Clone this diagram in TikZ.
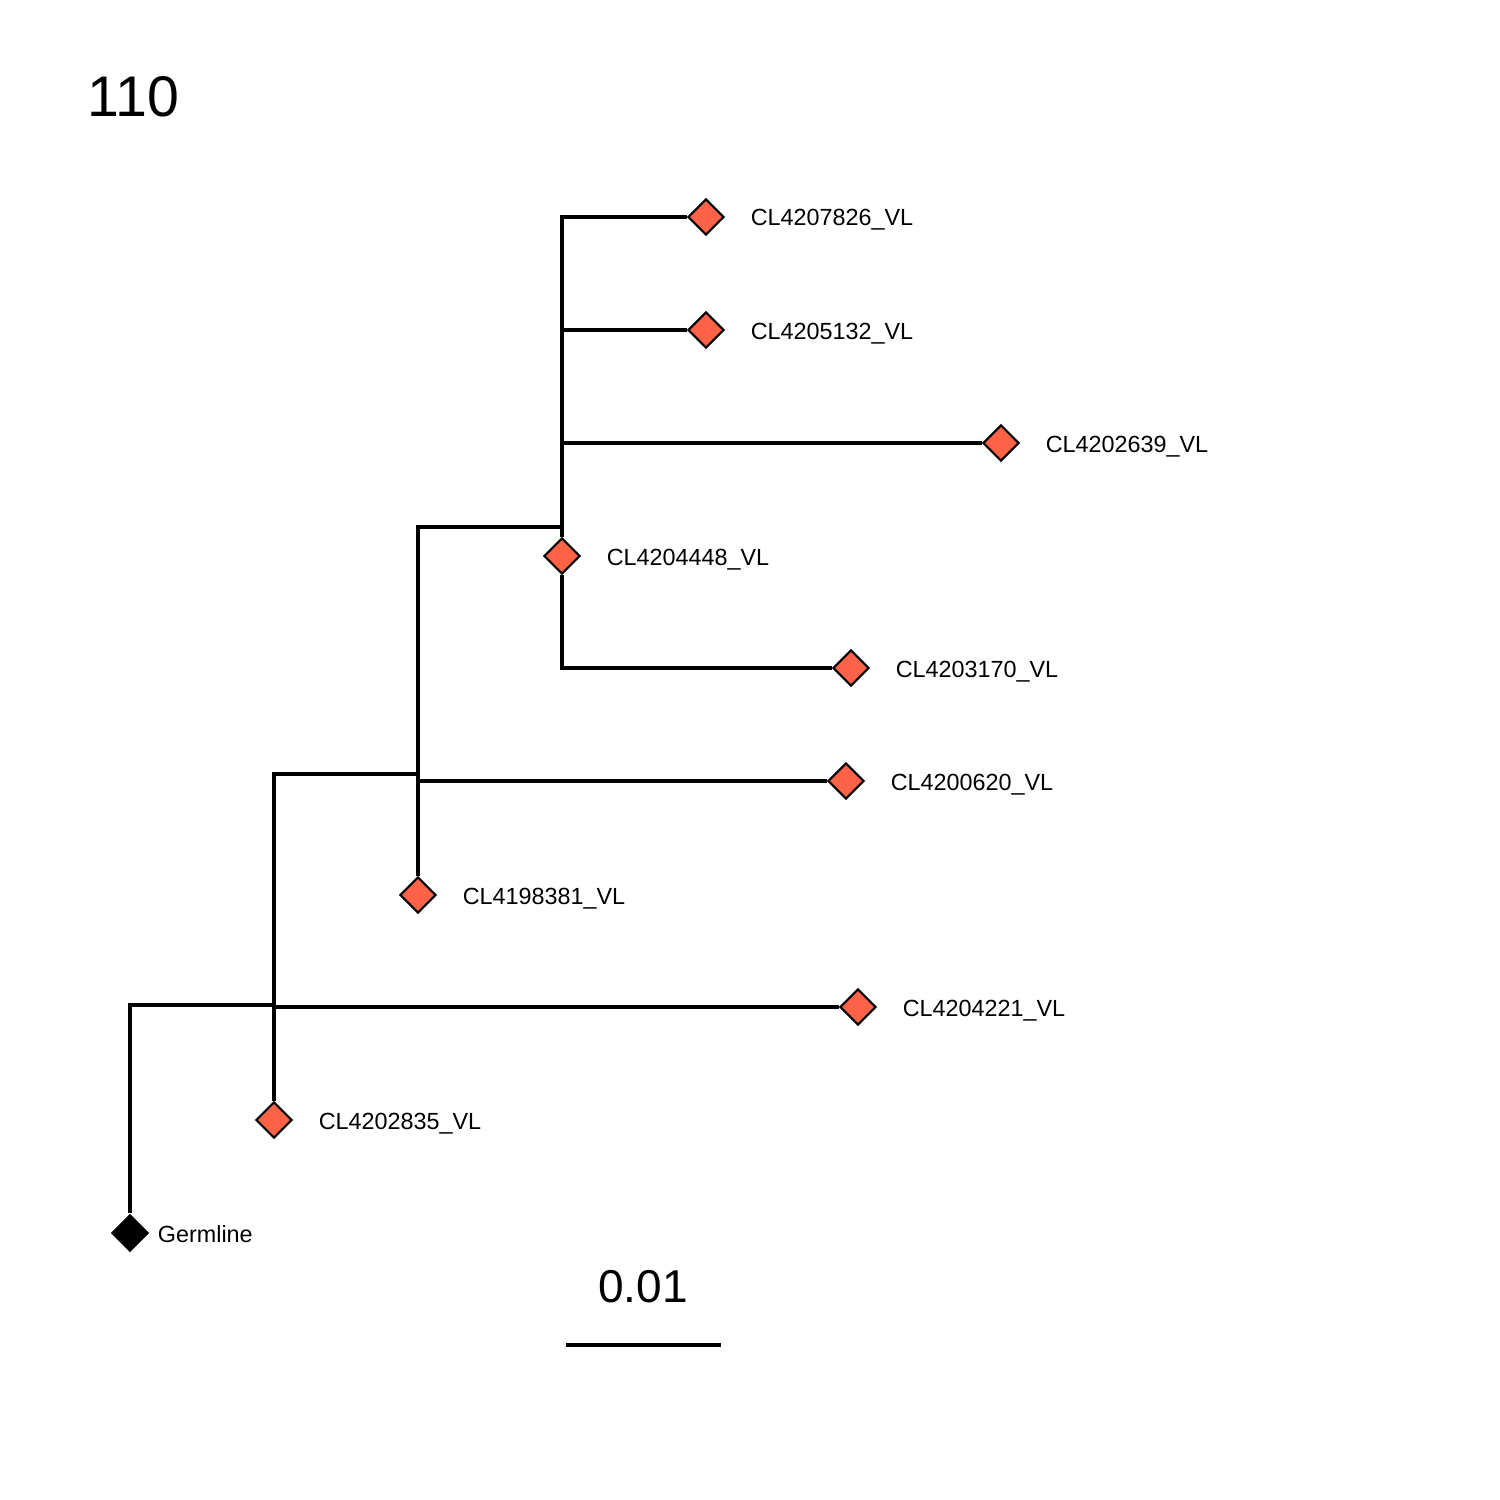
\documentclass[tikz,border=0pt]{standalone}
\usepackage{fontspec}
\setmainfont{Liberation Sans}
\usetikzlibrary{shapes.geometric, positioning}
\definecolor{leafred}{HTML}{FF6347}

\begin{document}
\begin{tikzpicture}[x=0.1mm, y=-0.1mm,
        leaf/.style={diamond, draw, fill=leafred, line width=0.6pt, inner sep=0pt, minimum size=3.6mm},
        root/.style={diamond, fill=black, inner sep=0pt, minimum size=3.9mm},
        tiplabel/.style={font=\fontsize{6.65}{7}\selectfont, inner sep=0pt, text height=1.8mm, text depth=0pt},
        branch/.style={line width=1.05pt, line join=miter}]
        \useasboundingbox (0,0) rectangle (1500,1500);
        \def \off {2.5mm}
        % tips
        \node[root] (g) at (130,1233) {};
        \node[leaf] (n2835) at (274,1120) {};
        \node[leaf] (n4221) at (858,1007) {};
        \node[leaf] (n8381) at (418,895) {};
        \node[leaf] (n0620) at (846,781) {};
        \node[leaf] (n3170) at (851,668) {};
        \node[leaf] (n4448) at (562,556) {};
        \node[leaf] (n2639) at (1001,443) {};
        \node[leaf] (n5132) at (706,330) {};
        \node[leaf] (n7826) at (706,217) {};
        % inner points
        \coordinate (a) at (274,1005);
        \coordinate (a2) at (274,1007);
        \coordinate (b) at (418,774);
        \coordinate (b2) at (418,781);
        \coordinate (c) at (562,527);
        \coordinate (c2) at (562,330);
        \coordinate (c3) at (562,443);
        % branches
        \draw[branch] (g) |- (a);
        \draw[branch] (b) -| (n2835);
        \draw[branch] (a2) -- (n4221);
        \draw[branch] (c) -| (n8381);
        \draw[branch] (b2) -- (n0620);
        \draw[branch] (n7826) -| (n4448);
        \draw[branch] (n4448) |- (n3170);
        \draw[branch] (c2) -- (n5132);
        \draw[branch] (c3) -- (n2639);
        % labels
        \node[tiplabel, right=0.7mm of g] (lg) {Germline};
        \node[tiplabel, right=\off of n2835] (l2835) {CL4202835\_VL};
        \node[tiplabel, right=\off of n4221] (l4221) {CL4204221\_VL};
        \node[tiplabel, right=\off of n8381] (l8381) {CL4198381\_VL};
        \node[tiplabel, right=\off of n0620] (l0620) {CL4200620\_VL};
        \node[tiplabel, right=\off of n3170] (l3170) {CL4203170\_VL};
        \node[tiplabel, right=\off of n4448] (l4448) {CL4204448\_VL};
        \node[tiplabel, right=\off of n2639] (l2639) {CL4202639\_VL};
        \node[tiplabel, right=\off of n5132] (l5132) {CL4205132\_VL};
        \node[tiplabel, right=\off of n7826] (l7826) {CL4207826\_VL};
        % title and scale
        \node[anchor=base west, inner sep=0pt, font=\fontsize{16.3}{18}\selectfont] (title) at (87,117) {110};
        \coordinate (s1) at (566,1345);
        \coordinate (s2) at (721,1345);
        \draw[line width=1.4pt] (s1) -- (s2);
        \node[anchor=base, inner sep=0pt, font=\fontsize{13.1}{15}\selectfont] (scale) at (643,1302) {0.01};
\end{tikzpicture}
\end{document}
